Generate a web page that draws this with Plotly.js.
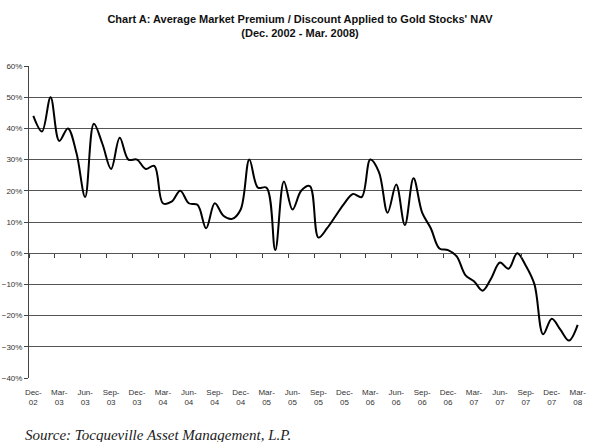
<!DOCTYPE html>
<html>
<head>
<meta charset="utf-8">
<script src="https://cdn.plot.ly/plotly-3.0.1.min.js"></script>
<style>
  html, body { margin: 0; padding: 0; background: #fff; }
  #chart { width: 600px; height: 442px; }
</style>
</head>
<body>
<div id="chart"></div>
<script>
// Monthly observations, Dec-02 (index 0) through Mar-08 (index 63), premium/discount in %
const premium = [
  44, 39, 50, 36, 40, 32, 18, 41.5, 35, 27,
  37, 30, 30, 27, 28, 16, 16.5, 20, 16, 15.5,
  8, 16, 12, 11, 14, 30, 21, 21, 1, 23,
  14, 20, 21.5, 5, 8, 12, 16, 19, 18, 30,
  26, 13, 22, 9, 24, 13, 8, 1.5, 1, -1,
  -7, -9, -12, -8, -3, -5, 0, -4, -10, -26,
  -21, -24.5, -28, -23
];
// Quarterly tick labels
const quarterLabels = [
  'Dec-<br>02', 'Mar-<br>03', 'Jun-<br>03', 'Sep-<br>03', 'Dec-<br>03', 'Mar-<br>04',
  'Jun-<br>04', 'Sep-<br>04', 'Dec-<br>04', 'Mar-<br>05', 'Jun-<br>05', 'Sep-<br>05',
  'Dec-<br>05', 'Mar-<br>06', 'Jun-<br>06', 'Sep-<br>06', 'Dec-<br>06', 'Mar-<br>07',
  'Jun-<br>07', 'Sep-<br>07', 'Dec-<br>07', 'Mar-<br>08'
];
const labelStep = 3;

const monthIndex = premium.map((_, i) => i);
const labelPos = quarterLabels.map((_, k) => k * labelStep);
const tickPos = quarterLabels.map((_, k) => k * labelStep - 0.5);

const axisFont = { family: 'Liberation Sans, Arial, sans-serif', size: 8, color: '#333' };

const traces = [{
  x: monthIndex,
  y: premium,
  type: 'scatter',
  mode: 'lines',
  line: { color: '#000', width: 2, shape: 'spline', smoothing: 1 },
  hoverinfo: 'skip',
  showlegend: false
}];

const layout = {
  width: 600,
  height: 442,
  margin: { l: 29.4, r: 18.3, t: 66, b: 64 },
  paper_bgcolor: '#fff',
  plot_bgcolor: '#fff',
  title: {
    text: "Chart A: Average Market Premium / Discount Applied to Gold Stocks' NAV<br>(Dec. 2002 - Mar. 2008)",
    font: { family: 'Liberation Sans Narrow, Arial Narrow, Liberation Sans, sans-serif', size: 11, color: '#111', weight: 'bold' },
    xref: 'container', x: 0.5, xanchor: 'center',
    yref: 'container', y: 0.948, yanchor: 'middle'
  },
  xaxis: {
    range: [-0.5, 63.5],
    tickmode: 'array',
    tickvals: labelPos,
    ticktext: quarterLabels,
    ticks: '',
    ticklabelstandoff: 8,
    showgrid: false,
    zeroline: false,
    showline: false,
    tickfont: axisFont,
    tickangle: 0,
    fixedrange: true
  },
  xaxis2: {
    overlaying: 'x',
    anchor: 'free',
    position: 0.4,
    range: [-0.5, 63.5],
    tickmode: 'array',
    tickvals: tickPos,
    ticks: 'outside',
    ticklen: 4,
    tickcolor: '#444',
    tickwidth: 1,
    showticklabels: false,
    showgrid: false,
    zeroline: false,
    showline: false,
    fixedrange: true
  },
  yaxis: {
    range: [-40, 60],
    dtick: 10,
    tick0: 0,
    ticksuffix: '%',
    ticks: 'outside',
    ticklen: 4,
    tickcolor: '#444',
    showgrid: true,
    gridcolor: '#555',
    gridwidth: 1,
    zeroline: false,
    showline: true,
    linecolor: '#444',
    linewidth: 1,
    tickfont: axisFont,
    fixedrange: true
  },
  annotations: [{
    text: 'Source: Tocqueville Asset Management, L.P.',
    xref: 'paper', yref: 'paper',
    x: -0.01, y: -0.183,
    xanchor: 'left', yanchor: 'middle',
    showarrow: false,
    font: { family: 'Liberation Serif, DejaVu Serif, serif', size: 15, color: '#222', style: 'italic' }
  }]
};

// invisible helper trace so the tick-mark axis (xaxis2) is drawn
traces.push({ x: [0], y: [0], xaxis: 'x2', yaxis: 'y', mode: 'markers', marker: { opacity: 0 }, hoverinfo: 'skip', showlegend: false });

Plotly.newPlot('chart', traces, layout, { displayModeBar: false, staticPlot: true });
</script>
</body>
</html>
